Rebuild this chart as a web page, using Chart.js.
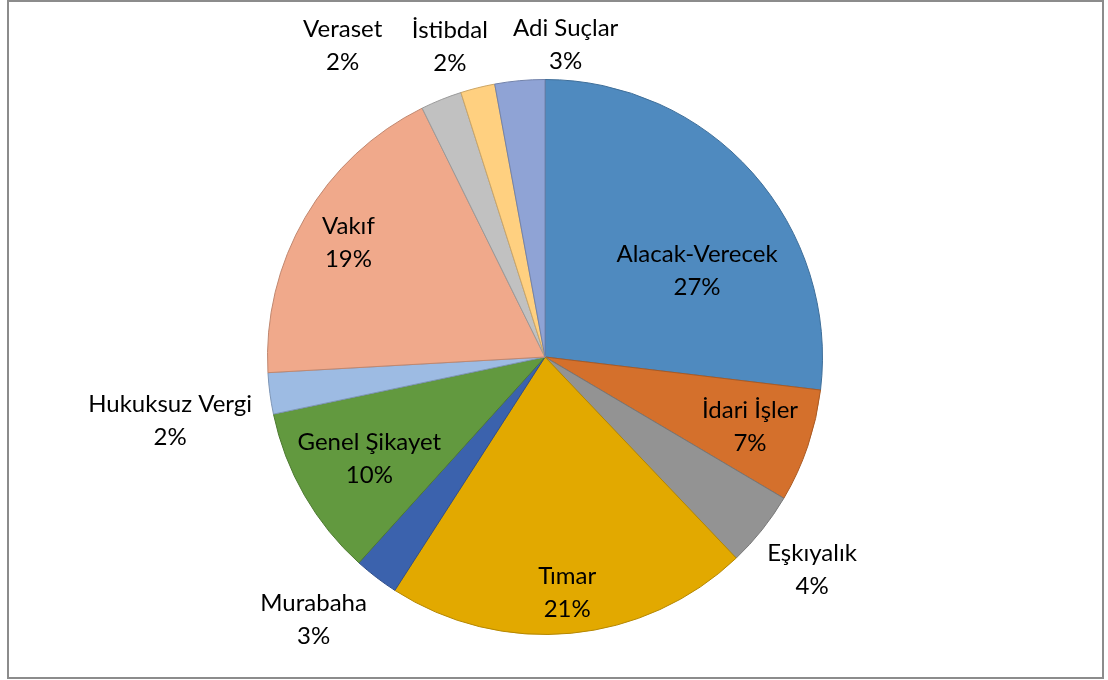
<!DOCTYPE html>
<html>
<head>
<meta charset="utf-8">
<script src="https://cdn.jsdelivr.net/npm/chart.js@4"></script>
<style>
  html, body { margin: 0; padding: 0; background: #ffffff; }
  #wrap {
    position: absolute; left: 7px; top: 0px;
    width: 1093px; height: 675px;
    border: 2px solid #8c8c8c;
    box-sizing: content-box;
  }
  #chart { position: absolute; left: -9px; top: -2px; }
</style>
</head>
<body>
<div id="wrap"><canvas id="chart" width="1108" height="680"></canvas></div>
<script>
// slice names, clockwise from 12 o'clock
const categories = [
    "Alacak-Verecek", "İdari İşler", "Eşkıyalık", "Tımar", "Murabaha",
    "Genel Şikayet", "Hukuksuz Vergi", "Vakıf", "Veraset", "İstibdal", "Adi Suçlar"
];
// shares (%)
const shares = [26.9, 6.6, 4.4, 21.2, 2.6, 10.0, 2.4, 18.6, 2.4, 2.0, 2.9];

const fillColors = [
    "#4f8abf", "#d4702c", "#939393", "#e2a900", "#3b62ad", "#62993f",
    "#9dbbe3", "#f0a98b", "#c1c1c1", "#ffd080", "#8fa3d5"
];
const edgeColors = [
    "#3e6e99", "#aa5a23", "#767676", "#b58700", "#2f4e8a", "#4e7a32",
    "#7e96b6", "#c0876f", "#9a9a9a", "#cca666", "#7282aa"
];

// label placement: radius as fraction of pie radius, angle nudge in degrees
const labelRadius = [0.63, 0.78, 1.23, 0.85, 1.26, 0.73, 1.37, 0.82, 1.34, 1.17, 1.13];
const labelNudge = [12, 0, 0, 0, 4, 0, -2, 0, -11, -3, 9];

const sliceLabels = {
    id: "sliceLabels",
    afterDatasetsDraw(chart) {
        const ctx = chart.ctx;
        const meta = chart.getDatasetMeta(0);
        const total = shares.reduce((a, b) => a + b, 0);
        ctx.save();
        ctx.font = "24px Lato";
        ctx.fillStyle = "#000000";
        ctx.textAlign = "center";
        ctx.textBaseline = "middle";
        meta.data.forEach((arc, i) => {
            const p = arc.getProps(["x", "y", "startAngle", "endAngle", "outerRadius"], true);
            const mid = (p.startAngle + p.endAngle) / 2 + labelNudge[i] * Math.PI / 180;
            const r = p.outerRadius * labelRadius[i];
            const x = p.x + Math.cos(mid) * r;
            const y = p.y + Math.sin(mid) * r;
            ctx.fillText(categories[i], x, y - 16);
            ctx.fillText(Math.round(shares[i] / total * 100) + "%", x, y + 17);
        });
        ctx.restore();
    }
};

new Chart(document.getElementById("chart"), {
    type: "pie",
    data: {
        labels: categories,
        datasets: [{
            data: shares,
            backgroundColor: fillColors,
            borderColor: edgeColors,
            borderWidth: 1
        }]
    },
    options: {
        responsive: false,
        animation: false,
        layout: { padding: { left: 267, right: 285, top: 79, bottom: 45 } },
        plugins: {
            legend: { display: false },
            tooltip: { enabled: false }
        }
    },
    plugins: [sliceLabels]
});
</script>
</body>
</html>
